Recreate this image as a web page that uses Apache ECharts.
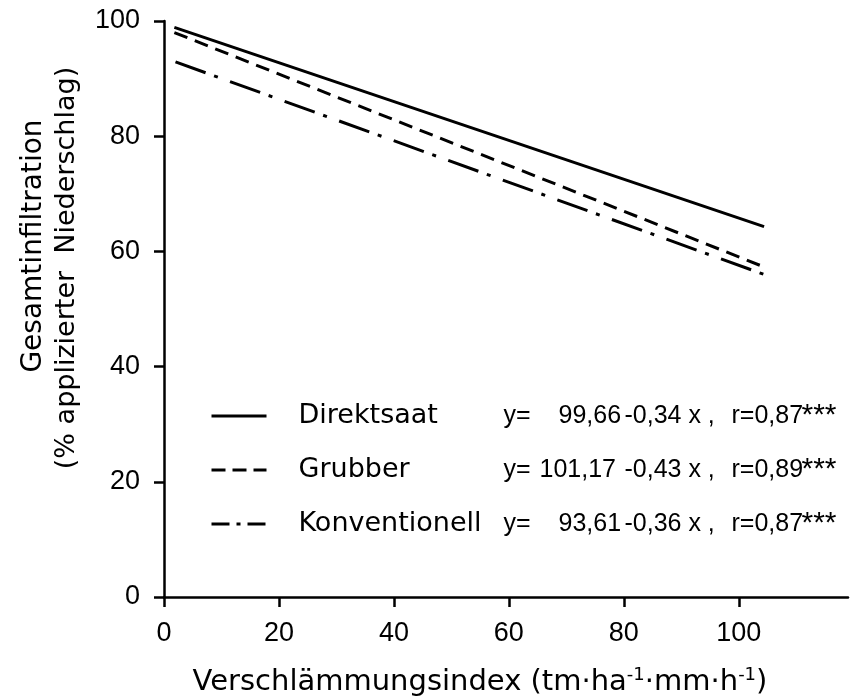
<!DOCTYPE html>
<html><head><meta charset="utf-8">
<script src="https://cdn.jsdelivr.net/npm/echarts@6/dist/echarts.min.js"></script>
<style>html,body{margin:0;padding:0;background:#fff}#c{width:868px;height:700px}</style>
</head><body><div id="c"></div>
<script>
const seriesNames = ['Direktsaat', 'Grubber', 'Konventionell'];
const direktsaat = [[1.8, 98.9], [104.4, 64.3]];
const grubber = [[1.8, 98.0], [104.4, 57.3]];
const konventionell = [[2.0, 92.9], [104.4, 56.0]];
const xTicks = [0, 20, 40, 60, 80, 100];
const yTicks = [0, 20, 40, 60, 80, 100];
const eqIntercepts = ['99,66', '101,17', '93,61'];
const eqSlopes = ['-0,34', '-0,43', '-0,36'];
const eqR = ['0,87', '0,89', '0,87'];

const WORD = 'DejaVu Sans';
const NUM = 'Liberation Sans';

const chart = echarts.init(document.getElementById('c'), null, {renderer: 'canvas'});
const axisCommon = {
  axisLine: {show: true, lineStyle: {color: '#000', width: 2.5}},
  axisTick: {show: true, inside: false, length: 10, lineStyle: {color: '#000', width: 2.5}},
  splitLine: {show: false},
  axisLabel: {color: '#000', fontFamily: NUM, fontSize: 27}
};
const supStyle = {fontFamily: WORD, fontSize: 18, verticalAlign: 'top', lineHeight: 32, color: '#000'};
function eqTok(style, w) {
  return Object.assign({fontFamily: NUM, fontSize: 25, lineHeight: 30, color: '#000'}, w ? {width: w} : {}, style || {});
}
const option = {
  backgroundColor: '#fff',
  animation: false,
  grid: {left: 164, right: 20, top: 21, bottom: 103, containLabel: false, outerBoundsMode: 'none'},
  xAxis: Object.assign({}, axisCommon, {
    type: 'value', min: 0, max: 119,
    axisTick: Object.assign({}, axisCommon.axisTick, {customValues: xTicks}),
    axisLabel: Object.assign({}, axisCommon.axisLabel, {customValues: xTicks, margin: 23}),
    name: '{t|Verschlämmungsindex (tm·ha}{s|-1}{t|·mm·h}{s|-1}{t|)}',
    nameLocation: 'middle', nameGap: 69,
    nameTextStyle: {
      padding: [0, 52, 0, 0],
      rich: {
        t: {fontFamily: WORD, fontSize: 29, lineHeight: 32, color: '#000'},
        s: supStyle
      }
    }
  }),
  yAxis: Object.assign({}, axisCommon, {
    type: 'value', min: 0, max: 100, interval: 20,
    axisTick: Object.assign({}, axisCommon.axisTick, {customValues: yTicks}),
    axisLabel: Object.assign({}, axisCommon.axisLabel, {customValues: yTicks, margin: 24})
  }),
  legend: {
    orient: 'vertical', left: 210, top: 401, padding: 0,
    itemWidth: 55, itemHeight: 14, itemGap: 24,
    lineStyle: {width: 3},
    itemStyle: {opacity: 0},
    selectedMode: false,
    data: [
      {name: 'Direktsaat'},
      {name: 'Grubber', lineStyle: {type: [14, 7], width: 3}},
      {name: 'Konventionell', lineStyle: {type: [18, 7, 4, 7], width: 3}}
    ],
    formatter: function (name) {
      const i = seriesNames.indexOf(name);
      const wide = eqIntercepts[i].length < 6;
      return '{n|' + name + '}{' + (wide ? 'yw' : 'y') + '|y=}{' + (wide ? 'vs' : 'vl') + '|' + eqIntercepts[i] +
        '}{m|' + eqSlopes[i] + ' x ,}{r|r=' + eqR[i] + '}{s|***}';
    },
    textStyle: {
      color: '#000', padding: [0, 0, 0, 27],
      rich: {
        n: {fontFamily: WORD, fontSize: 27, width: 205, lineHeight: 30, color: '#000'},
        y: eqTok(null, 36),
        yw: eqTok(null, 55),
        vs: eqTok(null, 66),
        vl: eqTok(null, 85),
        m: eqTok(null, 107),
        r: eqTok(null, 70),
        s: eqTok({fontSize: 30, verticalAlign: 'top', lineHeight: 30})
      }
    }
  },
  graphic: [
    {type: 'text', x: 34, y: 246, rotation: Math.PI / 2,
     style: {text: 'Gesamtinfiltration', fontFamily: WORD, fontSize: 28, fill: '#000', align: 'center', verticalAlign: 'middle'}},
    {type: 'text', x: 67, y: 268, rotation: Math.PI / 2,
     style: {text: '(% applizierter  Niederschlag)', fontFamily: WORD, fontSize: 27, fill: '#000', align: 'center', verticalAlign: 'middle'}}
  ],
  series: [
    {name: seriesNames[0], type: 'line', data: direktsaat, symbol: 'none', color: '#000',
     lineStyle: {color: '#000', width: 3, type: 'solid'}},
    {name: seriesNames[1], type: 'line', data: grubber, symbol: 'none', color: '#000',
     lineStyle: {color: '#000', width: 3, type: [14, 8]}},
    {name: seriesNames[2], type: 'line', data: konventionell, symbol: 'none', color: '#000',
     lineStyle: {color: '#000', width: 3, type: [32, 9, 4, 13]}}
  ]
};
chart.setOption(option);
</script>
</body></html>
